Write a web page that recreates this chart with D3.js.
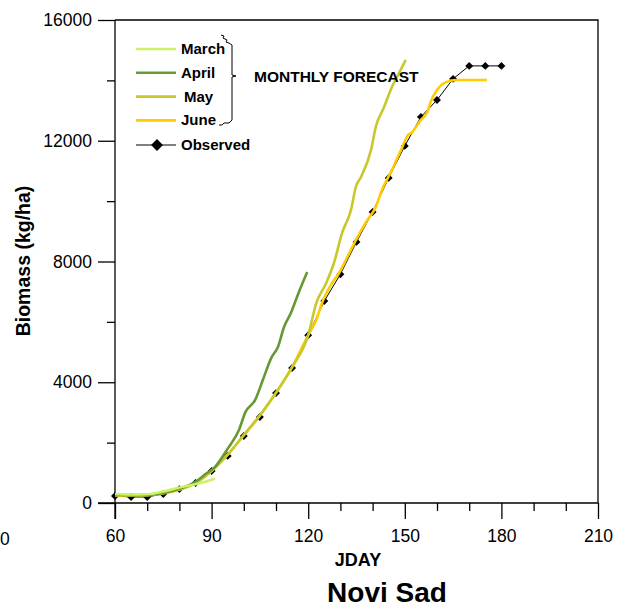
<!DOCTYPE html>
<html>
<head>
<meta charset="utf-8">
<script src="https://cdn.jsdelivr.net/npm/d3@7"></script>
<style>
  body { margin: 0; background: #fff; }
  text { font-family: "Liberation Sans", Arial, sans-serif; }
</style>
</head>
<body>
<div id="chart"></div>
<script>
// Data
var obsDays = [60, 65, 70, 75, 80, 85, 90, 95, 100, 105, 110, 115, 120, 125, 130, 135, 140, 145, 150, 155, 160, 165, 170, 175, 180];
var obsBiomass = [230, 200, 200, 300, 460, 660, 1060, 1560, 2220, 2850, 3640, 4470, 5560, 6690, 7580, 8650, 9640, 10770, 11830, 12790, 13350, 14050, 14480, 14480, 14480];

var marchDays = [60, 65, 70, 75, 80, 85, 88, 91];
var marchBiomass = [300, 280, 290, 380, 510, 620, 700, 800];

var aprilDays = [60, 65, 70, 75, 80, 85, 88, 91, 95, 98.5, 100.5, 103.5, 106, 108.5, 110.6, 112.5, 114.6, 117, 119.7];
var aprilBiomass = [280, 260, 270, 330, 470, 700, 950, 1190, 1800, 2420, 3010, 3410, 4100, 4800, 5170, 5830, 6290, 6960, 7650];

var mayDays = [60, 65, 70, 75, 80, 85, 90, 95, 100, 105, 110, 115, 120, 122.5, 125.6, 128, 130.5, 133.3, 134.8, 136.4, 139.5, 141, 143.5, 146, 148, 150.3];
var mayBiomass = [260, 250, 260, 320, 450, 660, 1060, 1600, 2250, 2900, 3650, 4500, 5560, 6620, 7290, 7950, 8940, 9710, 10470, 10800, 11690, 12460, 13100, 13780, 14200, 14680];

var juneDays = [60, 65, 70, 75, 80, 85, 90, 95, 100, 105, 110, 115, 120, 122.5, 124.4, 127, 129.6, 131.7, 134.8, 138, 141, 142.9, 146, 148.8, 151, 152, 155, 157, 158, 160, 163, 166, 175.5];
var juneBiomass = [260, 250, 260, 320, 450, 660, 1060, 1600, 2250, 2900, 3650, 4500, 5560, 6060, 6660, 7220, 7620, 8050, 8710, 9310, 9810, 10370, 11030, 11690, 12190, 12260, 12690, 12950, 13280, 13680, 13950, 14010, 14010];

var yTicks = [0, 4000, 8000, 12000, 16000];
var xTicks = [60, 90, 120, 150, 180, 210];

var series = [
  { name: "June", days: juneDays, vals: juneBiomass, color: "#ffcc00" },
  { name: "May", days: mayDays, vals: mayBiomass, color: "#c8c82e" },
  { name: "April", days: aprilDays, vals: aprilBiomass, color: "#669933" },
  { name: "March", days: marchDays, vals: marchBiomass, color: "#ccf266" }
];
var legendItems = [
  { name: "March", color: "#ccf266", dx: 0 },
  { name: "April", color: "#669933", dx: 0 },
  { name: "May", color: "#c8c82e", dx: 3 },
  { name: "June", color: "#ffcc00", dx: 0 }
];

var svgWidth = 622;
var svgHeight = 612;

var margin = { top: 20, right: 24, bottom: 109, left: 115 };
var chartWidth = svgWidth - margin.left - margin.right;
var chartHeight = svgHeight - margin.top - margin.bottom;

var svg = d3.select("#chart")
  .append("svg")
  .attr("width", svgWidth)
  .attr("height", svgHeight);

var chartGroup = svg.append("g")
  .attr("transform", `translate(${margin.left}, ${margin.top})`);

var xScale = d3.scaleLinear().domain([60, 210]).range([0, chartWidth]);
var yScale = d3.scaleLinear().domain([0, 16000]).range([chartHeight, 0]);

// frame (top and right sides)
chartGroup.append("path")
  .attr("d", `M0,0H${chartWidth}V${chartHeight}`)
  .attr("fill", "none")
  .attr("stroke", "#000")
  .attr("stroke-width", 1.3);

// minor ticks
var leftMinor = d3.axisLeft(yScale).tickValues([2000, 6000, 10000, 14000]).tickSize(8).tickFormat("");
var bottomMinor = d3.axisBottom(xScale).tickValues(d3.range(70, 210, 10).filter(d => (d - 60) % 30 != 0)).tickSize(8).tickFormat("");

chartGroup.append("g").call(leftMinor);
chartGroup.append("g").attr("transform", `translate(0, ${chartHeight})`).call(bottomMinor);

var leftAxis = d3.axisLeft(yScale).tickValues(yTicks).tickSize(17).tickPadding(6).tickFormat(d3.format("d"));
var bottomAxis = d3.axisBottom(xScale).tickValues(xTicks).tickSize(16).tickPadding(11).tickFormat(d3.format("d"));

chartGroup.append("g")
  .classed("axis", true)
  .call(leftAxis);

chartGroup.append("g")
  .classed("axis", true)
  .attr("transform", `translate(0, ${chartHeight})`)
  .call(bottomAxis);

svg.selectAll(".domain").remove();
svg.selectAll(".tick line").attr("stroke", "#000").attr("stroke-width", 1.3);
svg.selectAll(".axis text").style("font-size", "17.5px").style("font-family", "'Liberation Sans', Arial, sans-serif").attr("fill", "#000");

// axis lines (extend left to the 0 tick)
chartGroup.append("line")
  .attr("x1", -17).attr("x2", chartWidth)
  .attr("y1", chartHeight).attr("y2", chartHeight)
  .attr("stroke", "#000").attr("stroke-width", 1.3);
chartGroup.append("line")
  .attr("x1", 0).attr("x2", 0)
  .attr("y1", -0).attr("y2", chartHeight + 16)
  .attr("stroke", "#000").attr("stroke-width", 1.3);

// observed: thin line with diamonds
var obs = obsDays.map((d, i) => [d, obsBiomass[i]]);
var line = d3.line().x(d => xScale(d[0])).y(d => yScale(d[1]));

chartGroup.append("path")
  .datum(obs)
  .attr("d", line)
  .attr("fill", "none")
  .attr("stroke", "#000")
  .attr("stroke-width", 1);

var diamond = d3.symbol().type(d3.symbolDiamond2).size(40);
chartGroup.selectAll(".obs")
  .data(obs)
  .enter().append("path")
    .attr("class", "obs")
    .attr("d", diamond)
    .attr("transform", d => `translate(${xScale(d[0])}, ${yScale(d[1])})`)
    .attr("fill", "#000");

// forecast lines
var curve = d3.line().curve(d3.curveMonotoneX).x(d => xScale(d[0])).y(d => yScale(d[1]));
series.forEach(function(s) {
  chartGroup.append("path")
    .datum(s.days.map((d, i) => [d, s.vals[i]]))
    .attr("d", curve)
    .attr("fill", "none")
    .attr("stroke", s.color)
    .attr("stroke-width", 2.6)
    .attr("stroke-linejoin", "round");
});

// legend
var legend = svg.append("g");
legendItems.forEach(function(item, i) {
  var y = 49 + i * 23.8;
  legend.append("line")
    .attr("x1", 136).attr("x2", 176).attr("y1", y).attr("y2", y)
    .attr("stroke", item.color).attr("stroke-width", 2.6);
  legend.append("text")
    .attr("x", 181 + item.dx).attr("y", y + 5)
    .style("font-size", "15px").style("font-weight", "bold")
    .text(item.name);
});
legend.append("line")
  .attr("x1", 136).attr("x2", 176).attr("y1", 145).attr("y2", 145)
  .attr("stroke", "#000").attr("stroke-width", 1);
legend.append("path")
  .attr("d", d3.symbol().type(d3.symbolDiamond2).size(90))
  .attr("transform", "translate(157,145)")
  .attr("fill", "#000");
legend.append("text")
  .attr("x", 181).attr("y", 150)
  .style("font-size", "15px").style("font-weight", "bold")
  .text("Observed");

// bracket
legend.append("path")
  .attr("d", "M221,35 L224,36 L223,38 L227,40 L226,42 L229,43 L232,45 V75 L236,76 L232,77 V120 L229,123 L224,123 L222,125 L219,125")
  .attr("fill", "none")
  .attr("stroke", "#000")
  .attr("stroke-width", 1);

svg.append("text")
  .attr("x", 254).attr("y", 82)
  .style("font-size", "15.5px").style("font-weight", "bold")
  .text("MONTHLY FORECAST");

// axis titles
svg.append("text")
  .attr("transform", "translate(30, 261) rotate(-90)")
  .attr("text-anchor", "middle")
  .style("font-size", "19.5px").style("font-weight", "bold")
  .text("Biomass (kg/ha)");

svg.append("text")
  .attr("x", 358).attr("y", 566)
  .attr("text-anchor", "middle")
  .style("font-size", "18px").style("font-weight", "bold")
  .text("JDAY");

svg.append("text")
  .attr("x", 387).attr("y", 602)
  .attr("text-anchor", "middle")
  .style("font-size", "28px").style("font-weight", "bold")
  .text("Novi Sad");

// stray label at far left edge
svg.append("text")
  .attr("x", 0).attr("y", 545)
  .style("font-size", "17.5px")
  .text("0");
</script>
</body>
</html>
